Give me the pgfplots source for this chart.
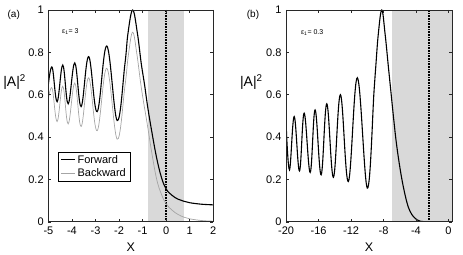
\documentclass[border=0pt]{standalone}
\usepackage{pgfplots}
\pgfplotsset{compat=1.18}
\usepackage{fontspec}
\setmainfont{Liberation Sans}
\definecolor{shade}{RGB}{217,217,217}
\definecolor{bwd}{RGB}{165,165,165}
\definecolor{axc}{RGB}{40,40,40}

\begin{document}
\begin{tikzpicture}
\path (0pt,0pt) rectangle (463pt,252pt);
\pgfplotsset{
  every axis/.append style={
    scale only axis, height=212pt,
    ymin=0, ymax=1, ytick={0,0.2,0.4,0.6,0.8,1},
    yticklabels={0,0.2,0.4,0.6,0.8,1},
    tick label style={font=\fontsize{11}{12}\selectfont},
    xticklabel style={yshift=-1.5pt},
    yticklabel style={xshift=-1.2pt},
    /pgf/number format/assume math mode=true,
    major tick length=3pt,
    axis line style={axc, line width=0.6pt},
    tick style={axc, line width=0.5pt},
    axis on top,
  }
}
% ---------------- panel (a)
\begin{axis}[
  at={(48pt,30pt)}, anchor=south west, width=165pt,
  xmin=-5, xmax=2, xtick={-5,-4,-3,-2,-1,0,1,2},
  xticklabels={-5,-4,-3,-2,-1,0,1,2},
  legend style={at={(0.06,0.33)}, anchor=north west, draw=black, line width=0.5pt,
    font=\fontsize{11}{12}\selectfont, inner xsep=2pt, inner ysep=1pt, row sep=0pt,
    cells={anchor=west}},
  legend image code/.code={\draw[#1] (0pt,0pt) -- (14pt,0pt);},
  extra description/.code={
    \node[font=\fontsize{14}{15}\selectfont] at (rel axis cs:-0.205,0.66) {|A|\textsuperscript{2}};
    \node[font=\fontsize{12.5}{13}\selectfont] at (rel axis cs:0.5,-0.12) {X};
    \node[font=\fontsize{10}{11}\selectfont] at (rel axis cs:-0.21,0.976) {(a)};
    \node[font=\fontsize{7}{8}\selectfont] at (rel axis cs:0.133,0.896) {ε\textsubscript{1}= 3};
  },
]
\addplot[fill=shade, draw=none, forget plot] coordinates {(-0.78,1) (0.78,1)} \closedcycle;
\addplot[black, dash pattern=on 1pt off 0.6pt, line width=1.3pt, forget plot] coordinates {(0,0) (0,1)};
\addplot[black, line width=1.1pt, smooth, tension=0.65] coordinates {
(-5.00,0.65) (-4.84,0.73) (-4.63,0.567) (-4.39,0.74)
(-4.16,0.557) (-3.88,0.75) (-3.61,0.544)
(-3.29,0.78) (-2.93,0.52) (-2.52,0.83)
(-2.08,0.478) (-1.75,0.745) (-1.62,0.89) (-1.42,1.00) (-1.22,0.89) (-1.06,0.75)
(-0.92,0.65) (-0.78,0.54) (-0.6,0.42) (-0.4,0.30) (-0.2,0.21) (0,0.155) (0.25,0.125) (0.5,0.107)
(0.75,0.097) (1.0,0.09) (1.5,0.083) (2.0,0.08)};
\addlegendentry{Forward}
\addplot[bwd, line width=0.7pt, smooth, tension=0.65] coordinates {
(-5.00,0.58) (-4.84,0.63) (-4.63,0.473) (-4.39,0.64)
(-4.16,0.462) (-3.88,0.655) (-3.61,0.45)
(-3.29,0.68) (-2.93,0.43) (-2.52,0.725)
(-2.08,0.39) (-1.75,0.64) (-1.60,0.79) (-1.42,0.895) (-1.24,0.79) (-1.05,0.63)
(-0.8,0.46) (-0.6,0.32) (-0.4,0.20) (-0.2,0.13) (0,0.085) (0.25,0.055) (0.5,0.035)
(0.75,0.022) (1.0,0.014) (1.5,0.006) (2.0,0.003)};
\addlegendentry{Backward}
\end{axis}
% ---------------- panel (b)
\begin{axis}[
  at={(286pt,30pt)}, anchor=south west, width=166pt,
  xmin=-20, xmax=0.45, xtick={-20,-16,-12,-8,-4,0},
  xticklabels={-20,-16,-12,-8,-4,0},
  extra description/.code={
    \node[font=\fontsize{14}{15}\selectfont] at (rel axis cs:-0.21,0.66) {|A|\textsuperscript{2}};
    \node[font=\fontsize{12.5}{13}\selectfont] at (rel axis cs:0.5,-0.12) {X};
    \node[font=\fontsize{10}{11}\selectfont] at (rel axis cs:-0.2,0.976) {(b)};
    \node[font=\fontsize{7}{8}\selectfont] at (rel axis cs:0.157,0.894) {ε\textsubscript{1}= 0.3};
  },
]
\addplot[fill=shade, draw=none, forget plot] coordinates {(-7,1) (0.45,1)} \closedcycle;
\addplot[black, dash pattern=on 1pt off 0.6pt, line width=1.3pt, forget plot] coordinates {(-2.4,0) (-2.4,1)};
\addplot[black, line width=1.1pt, smooth, tension=0.65] coordinates {
(-20.0,0.457) (-19.59,0.245) (-19.01,0.497) (-18.36,0.24)
(-17.78,0.513) (-17.04,0.233) (-16.43,0.528)
(-15.69,0.222) (-14.99,0.557) (-14.17,0.21)
(-13.31,0.60) (-12.33,0.19) (-11.22,0.68)
(-9.99,0.159) (-9.16,0.62) (-8.95,0.733) (-8.63,0.89) (-8.21,1.0) (-7.81,0.89)
(-7.4,0.733) (-7.1,0.62) (-6.7,0.47) (-6.37,0.36) (-5.95,0.25) (-5.55,0.165)
(-5.1,0.09) (-4.73,0.05) (-4.3,0.024) (-3.9,0.01) (-3.5,0.003) (-3.1,0.001) (-2.4,0)};
\end{axis}
\end{tikzpicture}
\end{document}
